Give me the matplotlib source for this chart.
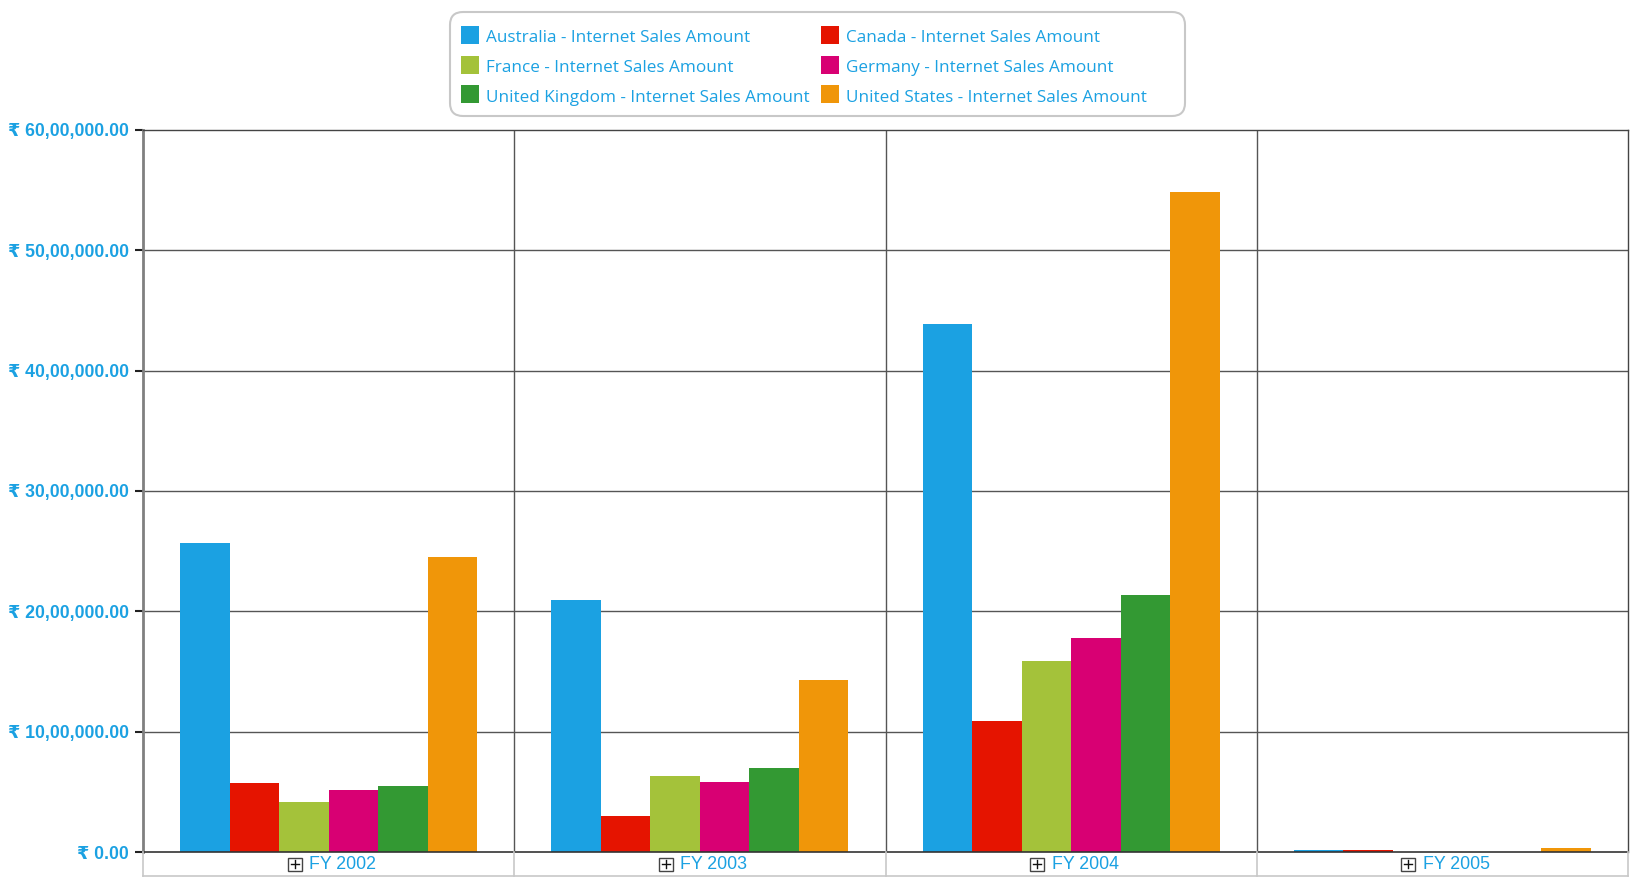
import matplotlib
matplotlib.use("Agg")
import matplotlib.pyplot as plt
from matplotlib.patches import Rectangle, FancyBboxPatch
from matplotlib.lines import Line2D
import numpy as np

# ---------------- data ----------------
categories = ["FY 2002", "FY 2003", "FY 2004", "FY 2005"]
series_names = [
    "Australia - Internet Sales Amount",
    "Canada - Internet Sales Amount",
    "France - Internet Sales Amount",
    "Germany - Internet Sales Amount",
    "United Kingdom - Internet Sales Amount",
    "United States - Internet Sales Amount",
]
australia = [2570000, 2093000, 4387000, 20000]
canada = [576000, 297000, 1090000, 18000]
france = [419000, 628000, 1587000, 0]
germany = [515000, 584000, 1779000, 0]
united_kingdom = [549000, 698000, 2137000, 0]
united_states = [2451000, 1430000, 5485000, 30000]
series_values = [australia, canada, france, germany, united_kingdom, united_states]
colors = ["#1BA1E2", "#E51400", "#A4C23A", "#D80073", "#339933", "#F09609"]
yticks = [0, 1000000, 2000000, 3000000, 4000000, 5000000, 6000000]
ytick_labels = ["₹ 0.00", "₹ 10,00,000.00", "₹ 20,00,000.00", "₹ 30,00,000.00",
                "₹ 40,00,000.00", "₹ 50,00,000.00", "₹ 60,00,000.00"]

BLUE = "#1BA1E2"
W, H = 1641, 888
fig = plt.figure(figsize=(W / 100, H / 100), dpi=100)
fig.patch.set_facecolor("white")
renderer = fig.canvas.get_renderer()


def fit_size(text, family, target_px, weight="normal", base=12):
    t = fig.text(0, 0, text, fontsize=base, family=family, fontweight=weight)
    w = t.get_window_extent(renderer).width
    t.remove()
    return base * target_px / w


ylab_font = ["Liberation Sans", "DejaVu Sans"]
yfs = fit_size(ytick_labels[-1], ylab_font, 119, weight="bold")
xlab_font = ["Liberation Sans", "DejaVu Sans"]
xfs = fit_size(categories[1], xlab_font, 67)
legend_font = ["Open Sans", "DejaVu Sans"]
lfs = fit_size(series_names[0], legend_font, 262)

# axes placement (pixels)
L, R, T, B = 143, 1628, 130, 852
ax = fig.add_axes([L / W, 1 - B / H, (R - L) / W, (B - T) / H])

n = len(series_values)
group = 0.8
bw = group / n
x = np.arange(len(categories))
for i, (vals, c) in enumerate(zip(series_values, colors)):
    ax.bar(x - group / 2 + bw * (i + 0.5), vals, width=bw, color=c,
           linewidth=0, zorder=2)

ax.set_xlim(-0.5, len(categories) - 0.5)
ax.set_ylim(0, 6000000)
ax.set_yticks(yticks)
ax.set_yticklabels(ytick_labels, fontsize=yfs, fontweight="bold", color=BLUE,
                   family=ylab_font)
ax.set_xticks([])
ax.tick_params(axis="y", length=6, width=1.5, color="#222222", pad=4)

# grid
for yv in yticks[1:-1]:
    ax.axhline(yv, color="#555555", linewidth=1, zorder=1)
for xv in np.arange(0.5, len(categories) - 0.5, 1):
    ax.axvline(xv, color="#555555", linewidth=1, zorder=1)

for s in ["top", "right"]:
    ax.spines[s].set_color("#444444")
    ax.spines[s].set_linewidth(1)
ax.spines["bottom"].set_color("#333333")
ax.spines["bottom"].set_linewidth(1.2)
ax.spines["bottom"].set_zorder(3)
ax.spines["left"].set_color("#808080")
ax.spines["left"].set_linewidth(2)

inch = fig.dpi_scale_trans


def px(xp, yp):
    return xp / 100, (H - yp) / 100


# category strip below axis
strip_bottom = 876
fig.add_artist(Line2D([L / 100, R / 100], [(H - strip_bottom) / 100] * 2,
                      transform=inch, color="#C8C8C8", linewidth=1.2))
bounds = np.arange(-0.5, len(categories) + 0.5, 1)
for bx in bounds:
    xd = ax.transData.transform((bx, 0))[0]
    fig.add_artist(Line2D([xd / 100] * 2, [(H - B) / 100, (H - strip_bottom) / 100],
                          transform=inch, color="#C8C8C8", linewidth=1.2))

for i, cat in enumerate(categories):
    cx = ax.transData.transform((i, 0))[0]
    fig.text(*px(cx - 19.5, 869), cat, transform=inch, ha="left", va="baseline",
             fontsize=xfs, color=BLUE, family=xlab_font)
    ix0, iy0 = cx - 41, 857.5
    fig.add_artist(Rectangle(px(ix0, iy0 + 13), 0.14, 0.13, transform=inch,
                             facecolor="white", edgecolor="#444444", linewidth=1))
    mx, my = ix0 + 7, iy0 + 6.5
    fig.add_artist(Line2D([(mx - 4) / 100, (mx + 4) / 100], [(H - my) / 100] * 2,
                          transform=inch, color="#111111", linewidth=1))
    fig.add_artist(Line2D([mx / 100] * 2, [(H - my - 4) / 100, (H - my + 4) / 100],
                          transform=inch, color="#111111", linewidth=1))

# legend
lx0, ly0, lx1, ly1 = 450, 12, 1185, 116
fig.add_artist(FancyBboxPatch(px(lx0, ly1), (lx1 - lx0) / 100, (ly1 - ly0) / 100,
                              boxstyle="round,pad=0,rounding_size=0.13",
                              transform=inch, facecolor="white",
                              edgecolor="#C8C8C8", linewidth=1.5))

col_marker_x = [461, 821]
col_text_x = [486, 846]
row_top = [26, 55.6, 85.2]
row_base = [42.3, 71.9, 101.5]
for k, (name, c) in enumerate(zip(series_names, colors)):
    r, col = k // 2, k % 2
    fig.add_artist(Rectangle(px(col_marker_x[col], row_top[r] + 18), 0.18, 0.18,
                             transform=inch, facecolor=c, edgecolor="none"))
    fig.text(*px(col_text_x[col], row_base[r]), name, transform=inch,
             ha="left", va="baseline", fontsize=lfs, color=BLUE, family=legend_font)

fig.savefig("out.png", dpi=100, facecolor="white")
